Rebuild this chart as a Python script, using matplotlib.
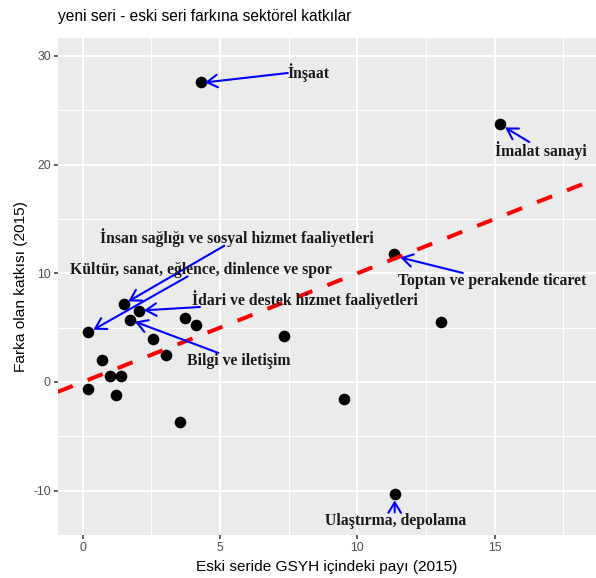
import matplotlib
matplotlib.use("Agg")
import matplotlib.pyplot as plt
from matplotlib.ticker import MultipleLocator, FixedLocator

# ---- data ----
share_x = [4.31, 15.20, 11.33, 13.04, 7.34, 9.52, 11.36, 0.20, 1.50, 2.06, 1.73,
           2.57, 3.04, 3.71, 4.13, 0.69, 0.99, 1.39, 0.19, 1.22, 3.54]
contrib_y = [27.56, 23.74, 11.74, 5.52, 4.26, -1.53, -10.30, 4.56, 7.14, 6.50, 5.67,
             3.98, 2.45, 5.92, 5.21, 2.05, 0.58, 0.58, -0.64, -1.23, -3.65]

labels = ["İnşaat", "İmalat sanayi", "Toptan ve perakende ticaret", "Ulaştırma, depolama",
          "İnsan sağlığı ve sosyal hizmet faaliyetleri",
          "Kültür, sanat, eğlence, dinlence ve spor",
          "İdari ve destek hizmet faaliyetleri", "Bilgi ve iletişim"]
label_x = [8.24, 16.69, 14.90, 11.41, 5.62, 4.29, 8.10, 5.67]
label_y = [28.48, 21.28, 9.28, -12.8, 13.25, 10.33, 7.58, 1.90]
tail_x = [7.47, 16.26, 13.84, 11.36, 5.16, 3.82, 4.27, 4.94]
tail_y = [28.43, 22.08, 10.03, -12.0, 12.54, 9.71, 6.90, 2.67]
head_x = [4.45, 15.38, 11.56, 11.36, 1.66, 0.39, 2.23, 1.90]
head_y = [27.56, 23.42, 11.46, -10.89, 7.41, 4.81, 6.59, 5.55]

line_intercept = 0.0
line_slope = 1.0

x_ticks = [0, 5, 10, 15]
y_ticks = [-10, 0, 10, 20, 30]

title = "yeni seri - eski seri farkına sektörel katkılar"
xlabel = "Eski seride GSYH içindeki payı (2015)"
ylabel = "Farka olan katkısı (2015)"

# ---- figure ----
plt.rcParams['font.family'] = ['Liberation Sans', 'DejaVu Sans']
plt.rcParams['axes.unicode_minus'] = False
fig = plt.figure(figsize=(5.96, 5.78), dpi=100)
ax = fig.add_axes([57.7 / 596, 1 - 535 / 578, 1 - 57.7 / 596, (535 - 38) / 578])
ax.set_facecolor("#EBEBEB")
for s in ax.spines.values():
    s.set_visible(False)

ax.set_xlim(-0.91, 18.69)
ax.set_ylim(-14.08, 31.65)
ax.xaxis.set_major_locator(FixedLocator(x_ticks))
ax.yaxis.set_major_locator(FixedLocator(y_ticks))
ax.xaxis.set_minor_locator(MultipleLocator(2.5))
ax.yaxis.set_minor_locator(MultipleLocator(5))
ax.grid(which="major", color="white", linewidth=1.4)
ax.grid(which="minor", color="white", linewidth=0.7)
ax.set_axisbelow(True)
ax.tick_params(which="major", length=3, width=1.1, color="#333333",
               labelcolor="#4D4D4D", labelsize=8.8, pad=2)
ax.tick_params(which="minor", length=0)

ax.scatter(share_x, contrib_y, s=70, color="black", zorder=3, linewidths=0)
ax.axline((0, line_intercept), slope=line_slope, color="red", linewidth=2.9,
          linestyle=(0, (4, 4)), zorder=4)

for lx, ly, tx, ty, hx, hy, lab in zip(label_x, label_y, tail_x, tail_y,
                                       head_x, head_y, labels):
    ax.annotate("", xy=(hx, hy), xytext=(tx, ty),
                arrowprops=dict(arrowstyle="->,head_length=0.5,head_width=0.3",
                                color="blue", lw=1.5, mutation_scale=15,
                                shrinkA=0, shrinkB=0), zorder=5)
    ax.text(lx, ly, lab, ha="center", va="center", fontsize=11.3,
            fontweight="bold", family=["Liberation Serif", "DejaVu Serif"],
            color="#1a1a1a", zorder=6)

fig.text(58 / 596, 1 - 17 / 578, title, ha="left", va="center", fontsize=11.2,
         color="black")
ax.set_xlabel(xlabel, fontsize=11.1, color="black", labelpad=4)
ax.set_ylabel(ylabel, fontsize=11.1, color="black", labelpad=4)

fig.savefig("out.png", dpi=100)
